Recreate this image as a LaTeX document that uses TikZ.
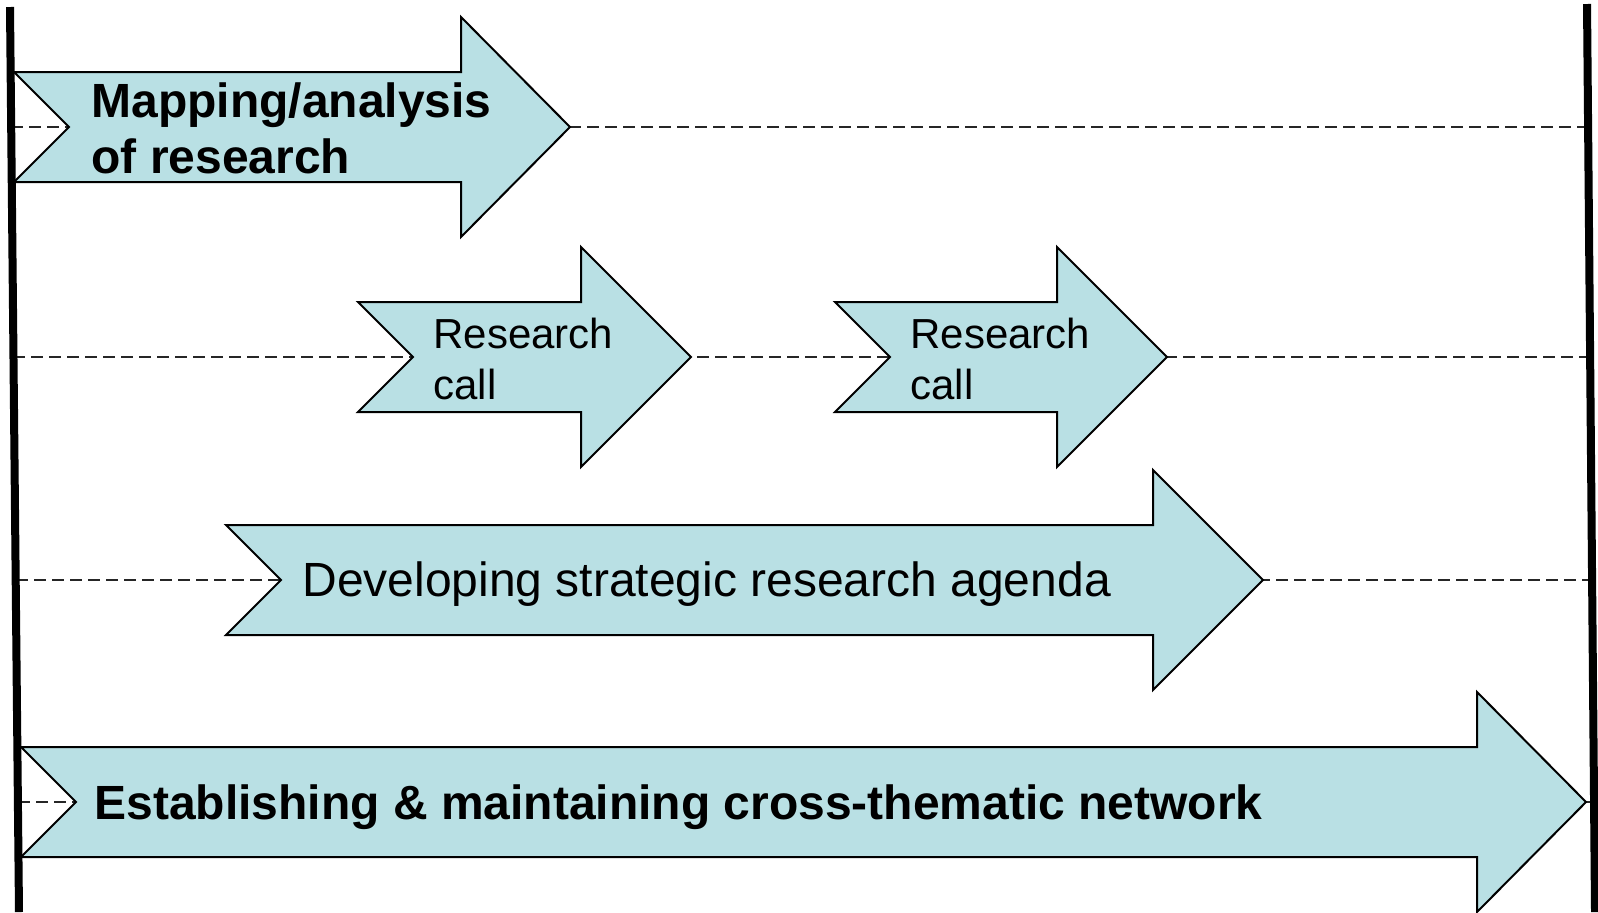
\documentclass[tikz,border=0pt]{standalone}
\usepackage{fontspec}
\setmainfont{Liberation Sans}
\usetikzlibrary{positioning}

\definecolor{stagefill}{RGB}{185,224,228}

% notched block arrow: name, left x, mid y, head x, tip x
\newcommand{\stagearrow}[5]{%
  \draw[stage] (#2,#3-55) -- (#4,#3-55) -- (#4,#3-110) -- (#5,#3)
    -- (#4,#3+110) -- (#4,#3+55) -- (#2,#3+55) -- (#2+55,#3) -- cycle;
  \coordinate (#1-in) at (#2+55,#3);
  \coordinate (#1-out) at (#5,#3);
}

\begin{document}
\begin{tikzpicture}[x=0.5pt, y=-0.5pt,
    stage/.style={fill=stagefill, draw=black, line width=1pt, line join=miter},
    guide/.style={draw=black!85, line width=0.75pt, dash pattern=on 6pt off 3pt},
    rail/.style={draw=black, line width=4pt},
    bigbold/.style={anchor=west, inner sep=0pt, align=left,
        font=\fontsize{24}{28}\selectfont\bfseries},
    big/.style={anchor=west, inner sep=0pt, align=left,
        font=\fontsize{24}{28}\selectfont},
    small/.style={anchor=west, inner sep=0pt, align=left,
        font=\fontsize{21}{25.5}\selectfont}
]
\useasboundingbox (0,0) rectangle (1598,912);

% rails
\coordinate (lt) at (10,7);   \coordinate (lb) at (19,912);
\coordinate (rt) at (1587,4); \coordinate (rb) at (1595,912);

% time lines
\coordinate (w1) at (11,127);  \coordinate (e1) at (1588,127);
\coordinate (w2) at (13,357);  \coordinate (e2) at (1590,357);
\coordinate (w3) at (16,580);  \coordinate (e3) at (1592,580);
\coordinate (w4) at (18,802);  \coordinate (e4) at (1594,802);
\draw[guide] (w1) -- (e1);
\draw[guide] (w2) -- (e2);
\draw[guide] (w3) -- (e3);
\draw[guide] (w4) -- (e4);

% stages
\stagearrow{mapping}{14}{127}{461}{570}
\stagearrow{callA}{358}{357}{581}{691}
\stagearrow{callB}{835}{357}{1057}{1167}
\stagearrow{agenda}{226}{580}{1153}{1263}
\stagearrow{network}{21}{802}{1477}{1586}

\node[bigbold, right=11pt of mapping-in, yshift=-0.5pt] (mapping) {Mapping/analysis\\of research};
\node[small, right=10pt of callA-in, yshift=-1pt] (callAtext) {Research\\call};
\node[small, right=10pt of callB-in, yshift=-1pt] (callBtext) {Research\\call};
\node[big, right=10.5pt of agenda-in, yshift=-2pt] (agenda) {Developing strategic research agenda};
\node[bigbold, right=9pt of network-in, yshift=-2.5pt] (network) {Establishing \& maintaining cross-thematic network};

\draw[rail] (lt) -- (lb);
\draw[rail] (rt) -- (rb);

\end{tikzpicture}
\end{document}
